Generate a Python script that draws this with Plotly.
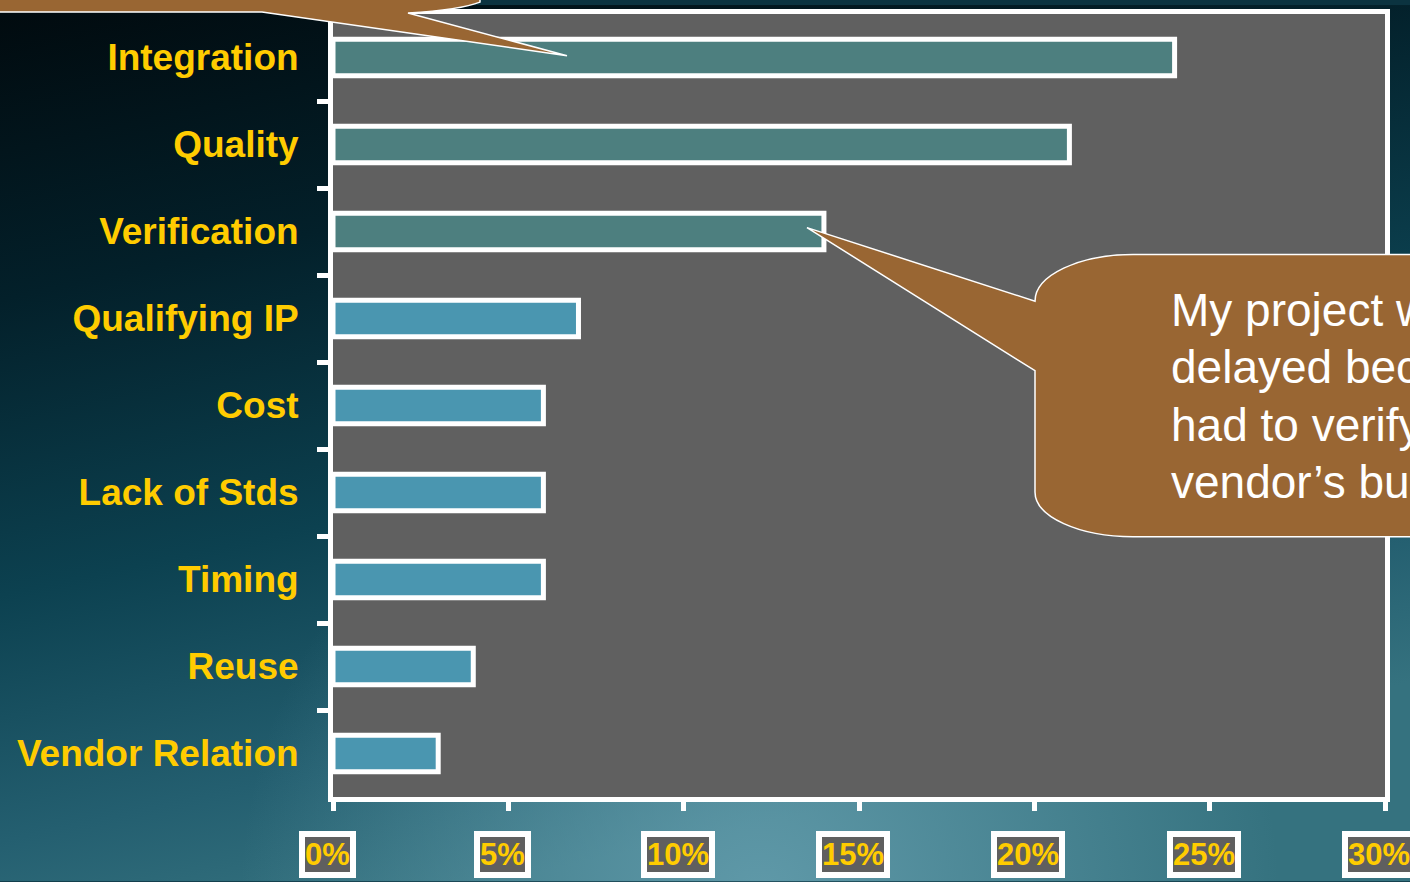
import base64
import plotly.graph_objects as go

# ---------------- data ----------------
categories = ["Integration", "Quality", "Verification", "Qualifying IP", "Cost",
              "Lack of Stds", "Timing", "Reuse", "Vendor Relation"]
values_pct = [24, 21, 14, 7, 6, 6, 6, 4, 3]
highlight_count = 3  # first three bars drawn in darker teal
tick_values_pct = [0, 5, 10, 15, 20, 25, 30]
tick_labels = [f"{v}%" for v in tick_values_pct]
callout_lines = ["My project was", "delayed because I", "had to verify", "vendor\u2019s bug fixes"]

# ---------------- geometry helpers ----------------
FW, FH = 1410, 882
L, T, R, B = 333, 9, 25, 85
W = FW - L - R
H = FH - T - B


def px(x):
    return (x - L) / W


def py(y):
    return (FH - B - y) / H


def path(cmds):
    """cmds: list of (command, [points]) ; one SVG command per segment."""
    out = []
    for cmd, pts in cmds:
        coords = " ".join(f"{px(x):.5f},{py(y):.5f}" for x, y in pts)
        out.append(f"{cmd}{coords}")
    return " ".join(out) + " Z"


YELLOW = "#FFCC00"
FONT = "Liberation Sans, Arial, sans-serif"
BROWN = "#996633"

colors = ["#4d7f7f" if i < highlight_count else "#4a96b0" for i in range(len(categories))]

fig = go.Figure()
fig.add_trace(go.Bar(
    x=[v / 100 for v in values_pct],
    y=categories,
    orientation="h",
    width=0.42,
    marker=dict(color=colors, line=dict(color="white", width=5)),
    hoverinfo="x+y",
))

# ---------------- background gradient (svg image) ----------------
svg = f"""<svg xmlns='http://www.w3.org/2000/svg' width='{FW}' height='{FH}' viewBox='0 0 {FW} {FH}' preserveAspectRatio='none'>
<defs>
<linearGradient id='g' x1='0' y1='0' x2='0.35' y2='1'>
<stop offset='0' stop-color='#010a0e'/>
<stop offset='0.3' stop-color='#03202a'/>
<stop offset='0.6' stop-color='#0c4150'/>
<stop offset='0.85' stop-color='#245f70'/>
<stop offset='1' stop-color='#35727f'/>
</linearGradient>
<radialGradient id='r' gradientUnits='userSpaceOnUse' cx='760' cy='900' r='520'>
<stop offset='0' stop-color='#6aa3b3' stop-opacity='0.8'/>
<stop offset='1' stop-color='#6aa3b3' stop-opacity='0'/>
</radialGradient>
</defs>
<rect width='{FW}' height='{FH}' fill='url(#g)'/>
<rect width='{FW}' height='{FH}' fill='url(#r)'/>
</svg>"""
src = "data:image/svg+xml;base64," + base64.b64encode(svg.encode()).decode()

images = [dict(source=src, xref="paper", yref="paper", x=px(0), y=py(0),
               sizex=FW / W, sizey=FH / H, xanchor="left", yanchor="top",
               sizing="stretch", layer="below")]

# ---------------- shapes ----------------
shapes = [
    dict(type="rect", xref="x domain", yref="y domain", x0=0, x1=1, y0=0, y1=1,
         fillcolor="#606060", line=dict(width=0), layer="below"),
]

# callout at the top (mostly off-page), pointing at Integration
top_bubble = path([
    ("M", [(-30, -80)]),
    ("L", [(-30, 7)]),
    ("L", [(262, 7)]),
    ("L", [(567, 51)]),
    ("L", [(408, 8)]),
    ("C", [(440, 6), (465, 3), (480, -3)]),
    ("L", [(480, -80)]),
])
shapes.append(dict(type="path", xref="paper", yref="paper", path=top_bubble,
                   fillcolor=BROWN, line=dict(color="white", width=1.5), layer="above"))

# callout on the right, pointing at Verification
right_bubble = path([
    ("M", [(1035, 298)]),
    ("C", [(1035, 272), (1079, 251), (1133, 251)]),
    ("L", [(1480, 251)]),
    ("L", [(1480, 535)]),
    ("L", [(1133, 535)]),
    ("C", [(1079, 535), (1035, 515), (1035, 490)]),
    ("L", [(1035, 368)]),
    ("L", [(807, 224)]),
])
shapes.append(dict(type="path", xref="paper", yref="paper", path=right_bubble,
                   fillcolor=BROWN, line=dict(color="white", width=1.5), layer="above"))

# ---------------- annotations ----------------
annotations = []
for v, lab in zip(tick_values_pct, tick_labels):
    annotations.append(dict(
        x=v / 100, xref="x", y=py(855), yref="paper", text=lab, showarrow=False,
        xanchor="center", yanchor="middle", xshift=-6,
        font=dict(family=FONT, size=31, color=YELLOW, weight="bold"),
        bgcolor="#5f5f5f", bordercolor="white", borderwidth=6, borderpad=0,
    ))

LINE_TOP, LINE_STEP = 307, 57.7
for i, line in enumerate(callout_lines):
    annotations.append(dict(
        x=px(1169), xref="paper", y=py(LINE_TOP + i * LINE_STEP), yref="paper",
        text=line, showarrow=False, align="left",
        xanchor="left", yanchor="middle",
        font=dict(family=FONT, size=46, color="white"),
    ))

fig.update_layout(
    width=FW, height=FH,
    margin=dict(l=L, r=R, t=T, b=B, pad=0),
    paper_bgcolor="#0b3340",
    plot_bgcolor="rgba(0,0,0,0)",
    showlegend=False,
    images=images,
    shapes=shapes,
    annotations=annotations,
)

fig.update_xaxes(
    range=[0, 0.30], tickvals=[v / 100 for v in tick_values_pct], showticklabels=False,
    ticks="outside", ticklen=9, tickwidth=5, tickcolor="white",
    showline=True, linecolor="white", linewidth=5, mirror=True,
    showgrid=False, zeroline=False, fixedrange=True,
)
fig.update_yaxes(
    type="category", categoryorder="array", categoryarray=categories,
    range=[len(categories) - 0.5, -0.5],
    tickson="boundaries", ticks="outside", ticklen=11, tickwidth=5, tickcolor="white",
    showline=True, linecolor="white", linewidth=5, mirror=True,
    showgrid=False, zeroline=False, fixedrange=True,
    tickfont=dict(family=FONT, size=37, color=YELLOW, weight="bold"),
    ticklabelstandoff=22,
)

fig.write_html(
    "out.html",
    config={"displayModeBar": False},
    post_script="document.body.style.margin='0px';document.body.style.overflow='hidden';",
)
